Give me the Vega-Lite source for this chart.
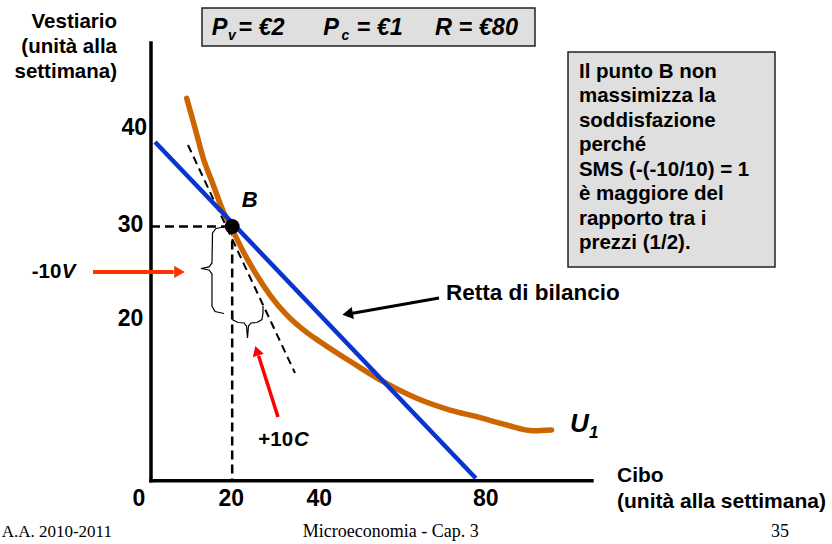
{
  "$schema": "https://vega.github.io/schema/vega-lite/v6.json",
  "width": 832,
  "height": 544,
  "padding": 0,
  "autosize": {"type": "fit", "contains": "padding"},
  "background": "white",
  "view": {"stroke": null},
  "config": {"text": {"font": "Liberation Sans", "baseline": "alphabetic"}},
  "datasets": {
    "boxes": [
      {"c": 12.56, "c2": 94.58, "v": 55.86, "v2": 51.36},
      {"c": 102.71, "c2": 153.69, "v": 50.65, "v2": 25.21}
    ],
    "axes": [
      {"c": 0, "c2": 0, "v": -0.1, "v2": 51.7},
      {"c": 0, "c2": 108.6, "v": -0.1, "v2": -0.1}
    ],
    "guides": [
      {"c": 0, "c2": 20, "v": 30, "v2": 30},
      {"c": 20, "c2": 20, "v": 30, "v2": 0}
    ],
    "tangent": [{"c": 9.11, "c2": 35.47, "v": 39.64, "v2": 12.66}],
    "budget": [{"c": 1, "c2": 80, "v": 40, "v2": 0.2}],
    "u1": [
      {"c": 8.79, "v": 45.17}, {"c": 10.84, "v": 41.66}, {"c": 12.88, "v": 38.07},
      {"c": 15.34, "v": 34.91}, {"c": 17.81, "v": 31.75}, {"c": 19.88, "v": 29.79},
      {"c": 22.73, "v": 27.02}, {"c": 26.03, "v": 24.26}, {"c": 29.31, "v": 21.89},
      {"c": 33.42, "v": 19.53}, {"c": 38.1, "v": 17.55}, {"c": 41.63, "v": 16.37},
      {"c": 49.83, "v": 13.81}, {"c": 57.22, "v": 11.63}, {"c": 65.44, "v": 9.67},
      {"c": 73.65, "v": 8.28}, {"c": 80.22, "v": 7.49}, {"c": 87.61, "v": 6.51},
      {"c": 94.16, "v": 5.83}, {"c": 98.69, "v": 5.92}
    ],
    "braces": [
      {"id": "sx", "o": 1, "c": 17.98, "v": 29.94}, {"id": "sx", "o": 2, "c": 16.01, "v": 29.76},
      {"id": "sx", "o": 3, "c": 15.15, "v": 29.23}, {"id": "sx", "o": 4, "c": 15.02, "v": 25.68},
      {"id": "sx", "o": 5, "c": 14.29, "v": 25.21}, {"id": "sx", "o": 6, "c": 12.32, "v": 25.03},
      {"id": "sx", "o": 7, "c": 14.29, "v": 24.85}, {"id": "sx", "o": 8, "c": 15.02, "v": 24.38},
      {"id": "sx", "o": 9, "c": 15.02, "v": 20.59}, {"id": "sx", "o": 10, "c": 15.76, "v": 19.94},
      {"id": "sx", "o": 11, "c": 17.98, "v": 19.7},
      {"id": "gi", "o": 1, "c": 19.95, "v": 19.53}, {"id": "gi", "o": 2, "c": 20.2, "v": 18.93},
      {"id": "gi", "o": 3, "c": 21.43, "v": 18.64}, {"id": "gi", "o": 4, "c": 22.91, "v": 18.58},
      {"id": "gi", "o": 5, "c": 23.52, "v": 18.22}, {"id": "gi", "o": 6, "c": 23.77, "v": 16.8},
      {"id": "gi", "o": 7, "c": 24.01, "v": 18.22}, {"id": "gi", "o": 8, "c": 24.63, "v": 18.58},
      {"id": "gi", "o": 9, "c": 26.11, "v": 18.64}, {"id": "gi", "o": 10, "c": 27.34, "v": 18.99},
      {"id": "gi", "o": 11, "c": 27.59, "v": 19.76}, {"id": "gi", "o": 12, "c": 27.59, "v": 20.59}
    ],
    "pointB": [{"c": 20, "v": 30}],
    "redLeftLine": [{"c": -14.29, "c2": 5.6, "v": 24.62, "v2": 24.62}],
    "redLeftHead": [{"c": 7.02, "v": 24.62}],
    "redLowLine": [{"c": 31.28, "c2": 26.5, "v": 7.46, "v2": 14.7}],
    "redLowHead": [{"c": 26.06, "v": 15.3}],
    "blackLine": [{"c": 70.94, "c2": 49.3, "v": 21.54, "v2": 19.7}],
    "blackHead": [{"c": 48.42, "v": 19.66}],
    "yTicks": [
      {"c": -0.99, "v": 40.83, "t": "40"},
      {"c": -1.9, "v": 29.38, "t": "30"},
      {"c": -1.9, "v": 18.22, "t": "20"}
    ],
    "xTicks": [
      {"c": -2.96, "v": -3.08, "t": "0"},
      {"c": 19.75, "v": -3.08, "t": "20"},
      {"c": 41.43, "v": -3.08, "t": "40"},
      {"c": 82.46, "v": -3.08, "t": "80"}
    ],
    "yTitle": [{"c": -8.37, "v": 53.46, "t": "Vestiario\n(unità alla\nsettimana)"}],
    "xTitle": [{"c": 114.78, "v": -0.2, "t": "Cibo\n(unità alla settimana)"}],
    "boxText": [{"c": 105.4, "v": 47.57, "t": "Il punto B non\nmassimizza la\nsoddisfazione\nperché\nSMS (-(-10/10) = 1\nè  maggiore del\nrapporto tra i\nprezzi (1/2)."}],
    "retta": [{"c": 72.66, "v": 21.3, "t": "Retta di bilancio"}],
    "numLabels": [
      {"c": -29.38, "v": 23.87, "t": "-10"},
      {"c": 26.43, "v": 4.02, "t": "+10"}
    ],
    "letterLabels": [
      {"c": -22.0, "v": 23.87, "t": "V"},
      {"c": 35.2, "v": 4.02, "t": "C"}
    ],
    "bLabel": [{"c": 22.34, "v": 32.34, "t": "B"}],
    "uLabel": [{"c": 103.2, "v": 5.72, "t": "U"}],
    "uSub": [{"c": 107.9, "v": 4.93, "t": "1"}],
    "priceMain": [
      {"c": 14.95, "v": 52.66, "t": "P"},
      {"c": 21.5, "v": 52.66, "t": "= €2"},
      {"c": 42.44, "v": 52.66, "t": "P"},
      {"c": 50.6, "v": 52.66, "t": "= €1"},
      {"c": 69.95, "v": 52.66, "t": "R = €80"}
    ],
    "priceSub": [
      {"c": 18.95, "v": 52.07, "t": "v"},
      {"c": 46.9, "v": 52.07, "t": "c"}
    ],
    "footLeft": [{"c": -9.61, "v": -6.71, "t": "A.A. 2010-2011"}],
    "footCenter": [
      {"c": 59.07, "v": -6.71, "t": "Microeconomia - Cap. 3"},
      {"c": 154.93, "v": -6.71, "t": "35"}
    ]
  },
  "encoding": {
    "x": {"field": "c", "type": "quantitative", "scale": {"domain": [-37.19, 167.73], "nice": false, "zero": false}, "axis": null},
    "y": {"field": "v", "type": "quantitative", "scale": {"domain": [-7.574, 56.8], "nice": false, "zero": false}, "axis": null}
  },
  "layer": [
    {"data": {"name": "boxes"}, "mark": {"type": "rect", "fill": "#DFDFDF", "stroke": "#222222", "strokeWidth": 1.5},
     "encoding": {"x2": {"field": "c2"}, "y2": {"field": "v2"}}},
    {"data": {"name": "axes"}, "mark": {"type": "rule", "color": "black", "strokeWidth": 3.5, "strokeCap": "square"},
     "encoding": {"x2": {"field": "c2"}, "y2": {"field": "v2"}}},
    {"data": {"name": "guides"}, "mark": {"type": "rule", "color": "black", "strokeWidth": 2.5, "strokeDash": [9, 5]},
     "encoding": {"x2": {"field": "c2"}, "y2": {"field": "v2"}}},
    {"data": {"name": "u1"}, "mark": {"type": "line", "color": "#CC6600", "strokeWidth": 5.5, "strokeCap": "round", "interpolate": "monotone"},
     "encoding": {}},
    {"data": {"name": "tangent"}, "mark": {"type": "rule", "color": "black", "strokeWidth": 2, "strokeDash": [8, 5]},
     "encoding": {"x2": {"field": "c2"}, "y2": {"field": "v2"}}},
    {"data": {"name": "budget"}, "mark": {"type": "rule", "color": "#0A35CC", "strokeWidth": 4.5},
     "encoding": {"x2": {"field": "c2"}, "y2": {"field": "v2"}}},
    {"data": {"name": "braces"}, "mark": {"type": "line", "color": "black", "strokeWidth": 1.2},
     "encoding": {"detail": {"field": "id"}, "order": {"field": "o", "type": "quantitative"}}},
    {"data": {"name": "pointB"}, "mark": {"type": "point", "filled": true, "color": "black", "size": 220, "opacity": 1}},
    {"data": {"name": "redLeftLine"}, "mark": {"type": "rule", "color": "#FF3300", "strokeWidth": 4},
     "encoding": {"x2": {"field": "c2"}, "y2": {"field": "v2"}}},
    {"data": {"name": "redLeftHead"}, "mark": {"type": "point", "shape": "triangle-right", "filled": true, "color": "#FF3300", "size": 150, "opacity": 1}},
    {"data": {"name": "redLowLine"}, "mark": {"type": "rule", "color": "#FF0000", "strokeWidth": 3.5},
     "encoding": {"x2": {"field": "c2"}, "y2": {"field": "v2"}}},
    {"data": {"name": "redLowHead"}, "mark": {"type": "point", "shape": "triangle-up", "angle": -17.7, "filled": true, "color": "#FF0000", "size": 130, "opacity": 1}},
    {"data": {"name": "blackLine"}, "mark": {"type": "rule", "color": "black", "strokeWidth": 3},
     "encoding": {"x2": {"field": "c2"}, "y2": {"field": "v2"}}},
    {"data": {"name": "blackHead"}, "mark": {"type": "point", "shape": "triangle-left", "angle": -10.2, "filled": true, "color": "black", "size": 150, "opacity": 1}},
    {"data": {"name": "yTicks"}, "mark": {"type": "text", "fontWeight": "bold", "fontSize": 23, "align": "right", "color": "black"},
     "encoding": {"text": {"field": "t"}}},
    {"data": {"name": "xTicks"}, "mark": {"type": "text", "fontWeight": "bold", "fontSize": 23, "align": "center", "color": "black"},
     "encoding": {"text": {"field": "t"}}},
    {"data": {"name": "yTitle"}, "mark": {"type": "text", "fontWeight": "bold", "fontSize": 20.5, "align": "right", "lineBreak": "\n", "lineHeight": 25, "color": "black"},
     "encoding": {"text": {"field": "t"}}},
    {"data": {"name": "xTitle"}, "mark": {"type": "text", "fontWeight": "bold", "fontSize": 21, "align": "left", "lineBreak": "\n", "lineHeight": 26, "color": "black"},
     "encoding": {"text": {"field": "t"}}},
    {"data": {"name": "boxText"}, "mark": {"type": "text", "fontWeight": "bold", "fontSize": 20.5, "align": "left", "lineBreak": "\n", "lineHeight": 24.5, "color": "black"},
     "encoding": {"text": {"field": "t"}}},
    {"data": {"name": "retta"}, "mark": {"type": "text", "fontWeight": "bold", "fontSize": 22.5, "align": "left", "color": "black"},
     "encoding": {"text": {"field": "t"}}},
    {"data": {"name": "numLabels"}, "mark": {"type": "text", "fontWeight": "bold", "fontSize": 20.5, "align": "left", "color": "black"},
     "encoding": {"text": {"field": "t"}}},
    {"data": {"name": "letterLabels"}, "mark": {"type": "text", "fontWeight": "bold", "fontStyle": "italic", "fontSize": 20.5, "align": "left", "color": "black"},
     "encoding": {"text": {"field": "t"}}},
    {"data": {"name": "bLabel"}, "mark": {"type": "text", "fontWeight": "bold", "fontStyle": "italic", "fontSize": 22, "align": "left", "color": "black"},
     "encoding": {"text": {"field": "t"}}},
    {"data": {"name": "uLabel"}, "mark": {"type": "text", "fontWeight": "bold", "fontStyle": "italic", "fontSize": 26, "align": "left", "color": "black"},
     "encoding": {"text": {"field": "t"}}},
    {"data": {"name": "uSub"}, "mark": {"type": "text", "fontWeight": "bold", "fontStyle": "italic", "fontSize": 17, "align": "left", "color": "black"},
     "encoding": {"text": {"field": "t"}}},
    {"data": {"name": "priceMain"}, "mark": {"type": "text", "fontWeight": "bold", "fontStyle": "italic", "fontSize": 23.5, "align": "left", "color": "black"},
     "encoding": {"text": {"field": "t"}}},
    {"data": {"name": "priceSub"}, "mark": {"type": "text", "fontWeight": "bold", "fontStyle": "italic", "fontSize": 14, "align": "left", "color": "black"},
     "encoding": {"text": {"field": "t"}}},
    {"data": {"name": "footLeft"}, "mark": {"type": "text", "font": "Liberation Serif", "fontSize": 17, "align": "right", "color": "black"},
     "encoding": {"text": {"field": "t"}}},
    {"data": {"name": "footCenter"}, "mark": {"type": "text", "font": "Liberation Serif", "fontSize": 18, "align": "center", "color": "black"},
     "encoding": {"text": {"field": "t"}}}
  ]
}
